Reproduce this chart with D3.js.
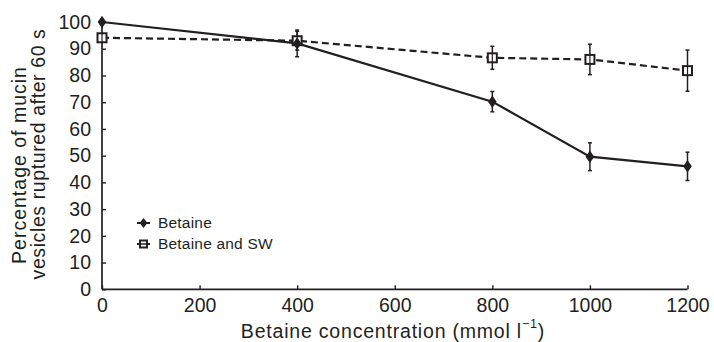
<!DOCTYPE html>
<html><head><meta charset="utf-8">
<script src="https://cdn.jsdelivr.net/npm/d3@7"></script>
<style>body{margin:0;background:#fff}svg{display:block}text{font-family:"Liberation Sans",Arial,sans-serif;fill:#231f20}</style>
</head><body>
<svg id="c" width="714" height="342"></svg>
<script>
const concentrations = [0, 400, 800, 1000, 1200];
const betaine = [100, 92, 70.2, 49.6, 46];
const betaineErr = [0, 5, 3.8, 5.2, 5.3];
const betaineSW = [94.1, 93, 86.6, 86, 81.8];
const betaineSWErr = [0, 3.5, 4.3, 5.7, 7.7];
const xTicks = [0, 200, 400, 600, 800, 1000, 1200];
const yTicks = [0, 10, 20, 30, 40, 50, 60, 70, 80, 90, 100];

const svg = d3.select("#c");
const ink = "#231f20";
const x = d3.scaleLinear().domain([0, 1200]).range([102, 687.5]);
const y = d3.scaleLinear().domain([0, 100]).range([289.3, 22]);

// axes
const xAxis = d3.axisBottom(x).tickValues(xTicks).tickFormat(d3.format("d")).tickSizeInner(-4).tickSizeOuter(0).tickPadding(9);
const gx = svg.append("g").attr("transform", `translate(0,${y(0)})`).call(xAxis);
const yAxis = d3.axisLeft(y).tickValues(yTicks).tickFormat(d3.format("d")).tickSizeInner(-4).tickSizeOuter(0).tickPadding(11);
const gy = svg.append("g").attr("transform", `translate(${x(0)},0)`).call(yAxis);
[gx, gy].forEach(g => {
  g.select(".domain").attr("stroke", ink).attr("stroke-width", 1.7);
  g.selectAll(".tick line").attr("stroke", ink).attr("stroke-width", 1.4);
  g.selectAll(".tick text").attr("font-size", 19.5).attr("font-family", "Liberation Sans, Arial, sans-serif").attr("fill", ink);
});
gx.selectAll(".tick text").attr("dy", "0.71em");
gx.select(".domain").attr("d", `M${x(0)},0H${x(1200)}`);
gy.select(".domain").attr("d", `M0,${y(0)}V${y(100)}`);

// lines
const line = d3.line().x((d, i) => x(concentrations[i])).y(d => y(d));
svg.append("path").datum(betaineSW).attr("d", line).attr("fill", "none")
  .attr("stroke", ink).attr("stroke-width", 2.2).attr("stroke-dasharray", "7,4");
svg.append("path").datum(betaine).attr("d", line).attr("fill", "none")
  .attr("stroke", ink).attr("stroke-width", 2.2);

// error bars
function errBars(vals, errs) {
  vals.forEach((v, i) => {
    if (!errs[i]) return;
    const cx = x(concentrations[i]);
    const g = svg.append("g").attr("stroke", ink).attr("stroke-width", 1.5);
    g.append("line").attr("x1", cx).attr("x2", cx).attr("y1", y(v + errs[i])).attr("y2", y(v - errs[i]));
    g.append("line").attr("x1", cx - 2).attr("x2", cx + 2).attr("y1", y(v + errs[i])).attr("y2", y(v + errs[i]));
    g.append("line").attr("x1", cx - 2).attr("x2", cx + 2).attr("y1", y(v - errs[i])).attr("y2", y(v - errs[i]));
  });
}
errBars(betaineSW, betaineSWErr);
errBars(betaine, betaineErr);

// markers
const sq = 9;
betaineSW.forEach((v, i) => {
  svg.append("rect").attr("x", x(concentrations[i]) - sq / 2).attr("y", y(v) - sq / 2)
    .attr("width", sq).attr("height", sq).attr("fill", "#fff").attr("stroke", ink).attr("stroke-width", 2);
  svg.append("line").attr("x1", x(concentrations[i])).attr("x2", x(concentrations[i]))
    .attr("y1", y(v) - sq / 2).attr("y2", y(v) + sq / 2).attr("stroke", ink).attr("stroke-width", 1.2);
});
const diamond = d3.symbol().type(d3.symbolDiamond).size(45);
betaine.forEach((v, i) => {
  svg.append("path").attr("d", diamond).attr("transform", `translate(${x(concentrations[i])},${y(v)}) scale(1.2,1)`)
    .attr("fill", ink);
});

// legend
const lg = svg.append("g");
lg.append("line").attr("x1", 137).attr("x2", 150).attr("y1", 223).attr("y2", 223).attr("stroke", ink).attr("stroke-width", 2);
lg.append("path").attr("d", d3.symbol().type(d3.symbolDiamond).size(30)).attr("transform", "translate(143.5,223) scale(1.3,1)").attr("fill", ink);
lg.append("text").attr("x", 158).attr("y", 223).attr("dy", "0.35em").attr("font-size", 15.5).attr("letter-spacing", 0.2).text("Betaine");
lg.append("line").attr("x1", 137).attr("x2", 150).attr("y1", 244).attr("y2", 244).attr("stroke", ink).attr("stroke-width", 2);
lg.append("rect").attr("x", 140).attr("y", 240.5).attr("width", 7).attr("height", 7).attr("fill", "#fff").attr("stroke", ink).attr("stroke-width", 2);
lg.append("line").attr("x1", 140).attr("x2", 147).attr("y1", 244).attr("y2", 244).attr("stroke", ink).attr("stroke-width", 1.5);
lg.append("text").attr("x", 158).attr("y", 244).attr("dy", "0.35em").attr("font-size", 15.5).attr("letter-spacing", 0.2).text("Betaine and SW");

// axis titles
const xt = svg.append("text").attr("x", 393).attr("y", 338).attr("text-anchor", "middle").attr("font-size", 19.5).attr("letter-spacing", 0.8);
xt.append("tspan").text("Betaine concentration (mmol l");
xt.append("tspan").attr("font-size", 12.5).attr("dy", "-0.8em").text("\u22121");
xt.append("tspan").attr("dy", "0.5em").text(")");

svg.append("text").attr("transform", "translate(25.5,165) rotate(-90)").attr("text-anchor", "middle")
  .attr("font-size", 19.5).attr("letter-spacing", 1.0).text("Percentage of mucin");
svg.append("text").attr("transform", "translate(44.5,154) rotate(-90)").attr("text-anchor", "middle")
  .attr("font-size", 19.5).attr("letter-spacing", 0.6).text("vesicles ruptured after 60 s");
</script>
</body></html>
